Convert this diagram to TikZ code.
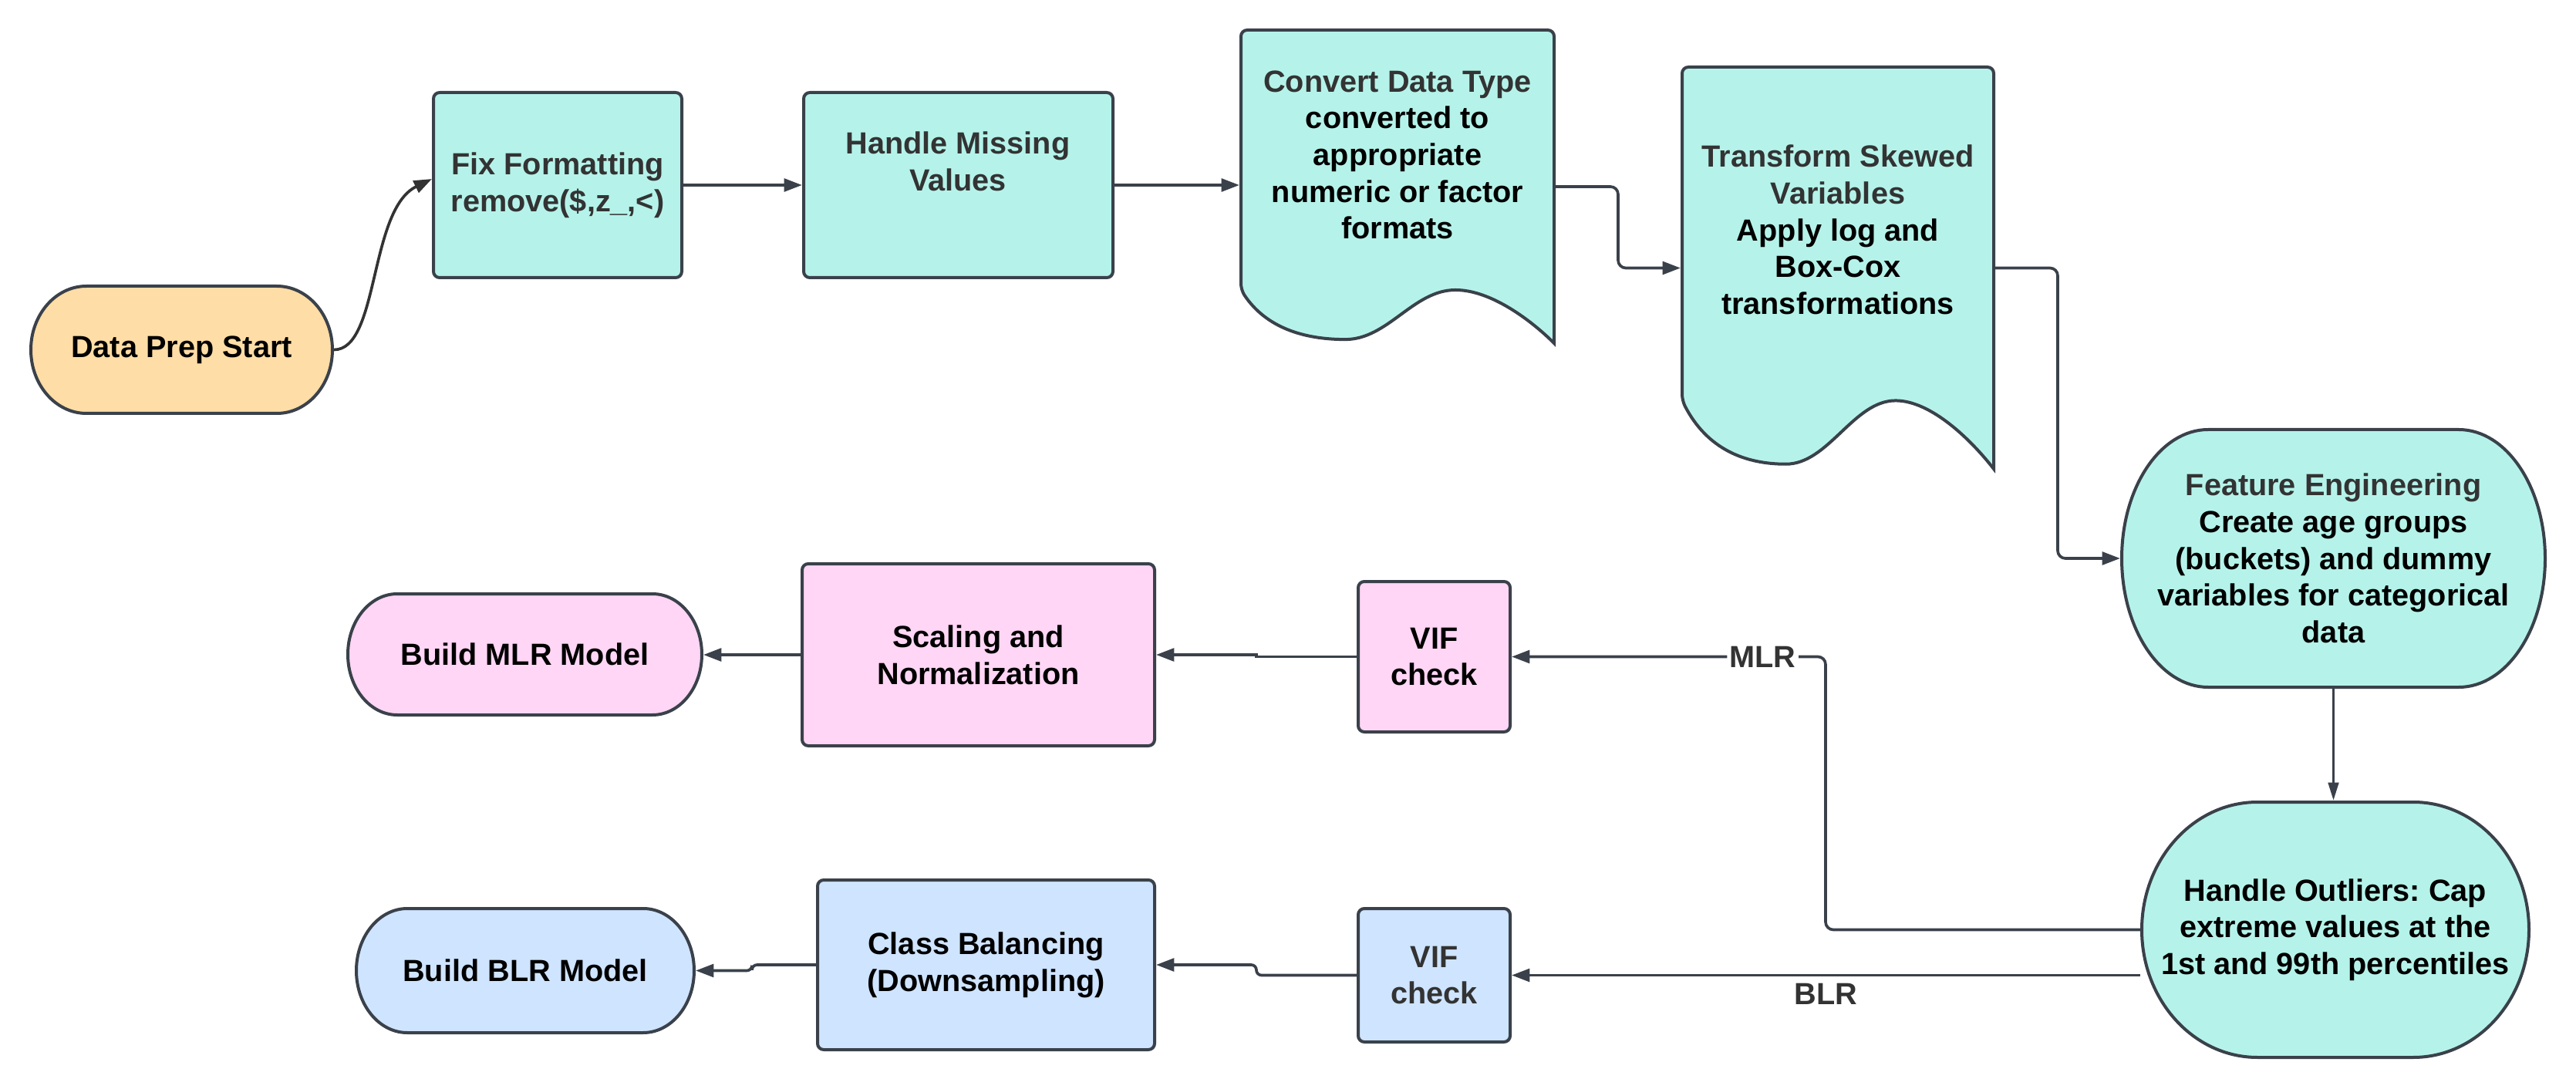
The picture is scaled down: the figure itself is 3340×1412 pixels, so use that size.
\documentclass[tikz,border=0pt]{standalone}
\usepackage{fontspec}
\setmainfont{Liberation Sans}
\usetikzlibrary{arrows.meta,calc,backgrounds}
\tikzset{every picture/.style={line width=1.2pt}}
\frenchspacing

\definecolor{tealfill}{HTML}{B5F3EA}
\definecolor{pinkfill}{HTML}{FFD6F5}
\definecolor{bluefill}{HTML}{CFE4FF}
\definecolor{orangefill}{HTML}{FFDDA6}
\definecolor{edgegray}{HTML}{3A414A}
\definecolor{titlegray}{HTML}{333333}

\newcommand{\boxfont}{\fontsize{11.9}{14.3}\selectfont\bfseries}

\tikzset{
  box/.style={draw=edgegray, line width=1.2pt, rounded corners=2.4pt, inner sep=0pt, align=center, font=\boxfont},
  shapetxt/.style={inner sep=0pt, align=center, font=\boxfont},
  sized/.style 2 args={minimum width={0.3pt*#1}, minimum height={0.3pt*#2}},
  conn/.style={draw=edgegray, line width=1.1pt, -{Triangle[length=7pt,width=5pt]}},
}

% terminator: fill, x1, y1, x2, y2, side radius
\newcommand{\termshape}[6]{%
  \pgfmathsetmacro{\ky}{0.224*(#5-#3)}%
  \pgfmathsetmacro{\kx}{0.448*#6}%
  \draw[draw=edgegray, line width=1.2pt, fill=#1]
    ({#2+#6},#3) -- ({#4-#6},#3)
    .. controls ({#4-\kx},#3) and (#4,{#3+\ky}) .. (#4,{(#3+#5)/2})
    .. controls (#4,{#5-\ky}) and ({#4-\kx},#5) .. ({#4-#6},#5)
    -- ({#2+#6},#5)
    .. controls ({#2+\kx},#5) and (#2,{#5-\ky}) .. (#2,{(#3+#5)/2})
    .. controls (#2,{#3+\ky}) and ({#2+\kx},#3) .. ({#2+#6},#3) -- cycle;}

% document: x1, y1, x2, y2
\newcommand{\docshape}[4]{%
  \pgfmathsetmacro{\dw}{#3-#1}%
  \pgfmathsetmacro{\dh}{#4-#2}%
  \pgfmathsetmacro{\yw}{#4-0.17*\dh}%
  \pgfmathsetmacro{\yt}{#4-0.012*\dh}%
  \draw[draw=edgegray, line width=1.2pt, fill=tealfill, rounded corners=2.4pt]
    (#3,#4) -- (#3,#2) -- (#1,#2) -- (#1,\yw) [sharp corners]
    .. controls ({#1+0.08*\dw},{\yw+0.12*\dh}) and ({#1+0.2*\dw},\yt) .. ({#1+0.333*\dw},\yt)
    .. controls ({#1+0.47*\dw},\yt) and ({#1+0.55*\dw},\yw) .. ({#1+0.685*\dw},\yw)
    .. controls ({#1+0.8*\dw},\yw) and ({#1+0.93*\dw},{\yw+0.1*\dh}) .. (#3,#4) -- cycle;}

\begin{document}
\begin{tikzpicture}[x=0.3pt,y=0.3pt,yscale=-1,xscale=1]
\useasboundingbox (0,0) rectangle (3340,1412);

%Shape: Terminator [start]
\termshape{orangefill}{40}{371}{431}{536}{72}
\node[shapetxt, sized={391}{165}] (start) at (235.5,453.5) {Data Prep Start};
%Shape: Rectangle [fix]
\node[box, fill=tealfill, text=titlegray, sized={322}{240}] (fix) at (723,240) {Fix Formatting\\remove(\$,z\_,<)};
%Shape: Rectangle [handle]
\node[box, fill=tealfill, sized={401}{240}] (handle) at (1242.5,240) {};
\node[shapetxt, text=titlegray] (handletxt) at (1242,209) {Handle Missing\\Values};
%Shape: Document [convert]
\docshape{1609}{39}{2015}{445}
\node[shapetxt, sized={406}{406}] (convert) at (1812,242) {};
\node[shapetxt] (converttxt) at (1812,201) {\textcolor{titlegray}{Convert Data Type}\\converted to\\appropriate\\numeric or factor\\formats};
%Shape: Document [transform]
\docshape{2181}{87}{2585}{608}
\node[shapetxt, sized={404}{521}] (transform) at (2383,347.5) {};
\node[shapetxt] (transformtxt) at (2383,298) {\textcolor{titlegray}{Transform Skewed}\\\textcolor{titlegray}{Variables}\\Apply log and\\Box-Cox\\transformations};
%Shape: Terminator [feature]
\termshape{tealfill}{2751}{557}{3300}{891}{112}
\node[shapetxt, sized={549}{334}] (feature) at (3025.5,724) {\textcolor{titlegray}{Feature Engineering}\\Create age groups\\(buckets) and dummy\\variables for categorical\\data};
%Shape: Terminator [outliers]
\termshape{tealfill}{2777}{1040}{3279}{1371}{150}
\node[shapetxt, sized={502}{331}] (outliers) at (3028,1205.5) {Handle Outliers: Cap\\extreme values at the\\1st and 99th percentiles};

%Shape: Rectangle [vif, MLR]
\node[box, fill=pinkfill, sized={197}{195}] (vifm) at (1859.5,851.5) {VIF\\check};
%Shape: Rectangle [scaling]
\node[box, fill=pinkfill, sized={457}{236}] (scaling) at (1268.5,849) {Scaling and\\Normalization};
%Shape: Terminator [build MLR]
\termshape{pinkfill}{451}{770}{910}{927}{64}
\node[shapetxt, sized={459}{157}] (buildm) at (680.5,848.5) {Build MLR Model};

%Shape: Rectangle [vif, BLR]
\node[box, fill=bluefill, text=titlegray, sized={197}{173}] (vifb) at (1859.5,1264.5) {VIF\\check};
%Shape: Rectangle [class balancing]
\node[box, fill=bluefill, sized={437}{220}] (classb) at (1278.5,1251) {Class Balancing\\(Downsampling)};
%Shape: Terminator [build BLR]
\termshape{bluefill}{462}{1178}{900}{1339}{66}
\node[shapetxt, sized={438}{161}] (buildb) at (681,1258.5) {Build BLR Model};

\begin{scope}[on background layer]
%Curve Lines
\draw[conn, draw=titlegray] (start.east) .. controls +(59,0) and +(-82,40) .. ($(fix.west)+(0,-8)$);
%Straight Lines
\draw[conn] (fix.east) -- (handle.west);
\draw[conn] (handle.east) -- (handle.east -| convert.west);
\draw[conn, rounded corners=3pt] (convert.east) -- ++(81,0) |- (transform.west);
\draw[conn, rounded corners=3pt] (transform.east) -- ++(81,0) |- (feature.west);
\draw[conn, -{Triangle[length=7pt,width=4pt]}] (feature.south) -- (feature.south |- outliers.north);
\draw[conn, rounded corners=3pt] (outliers.west) -- ++(-408,0) |- (vifm.east)
  node[pos=0.6, fill=white, inner sep=1pt, text=titlegray, font=\boxfont] (mlrlbl) {MLR};
\draw[conn] (outliers.west |- vifb.east) -- (vifb.east)
  node[midway, below, inner sep=2.7pt, text=titlegray, font=\boxfont] (blrlbl) {BLR};
\draw[conn] (vifm.west) -- ++(-130,0) |- (scaling.east);
\draw[conn] (scaling.west) -- (scaling.west -| buildm.east);
\draw[conn, rounded corners=2pt] (vifb.west) -- ++(-130,0) |- (classb.east);
\draw[conn, rounded corners=2pt] (classb.west) -- ++(-83,0) |- (buildb.east);
\end{scope}

\end{tikzpicture}
\end{document}
